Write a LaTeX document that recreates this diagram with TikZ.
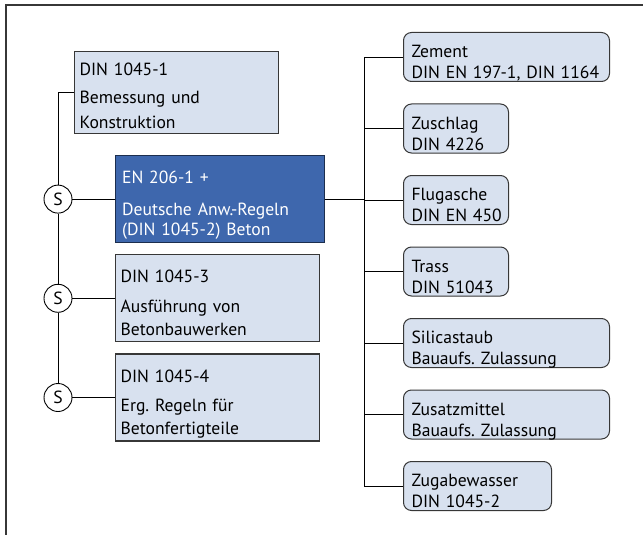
\documentclass[tikz,border=0pt]{standalone}
\usepackage{fontspec}
\setmainfont{PT Sans}
\usetikzlibrary{positioning}
\definecolor{boxfill}{RGB}{216,225,239}
\definecolor{normblue}{RGB}{62,103,173}
\definecolor{linegray}{RGB}{55,55,55}
\frenchspacing

\begin{document}
\begin{tikzpicture}[x=1pt, y=-1pt, font=\fontsize{17.6}{23}\selectfont,
  norm/.style={draw=linegray, line width=1.2pt, fill=boxfill, anchor=north west, align=left, inner xsep=5pt, inner ysep=0pt, text width=194pt, text height=28pt, text depth=59pt},
  main/.style={norm, draw=normblue!45!black, fill=normblue, text=white, inner xsep=6.5pt, text width=196pt},
  part/.style={draw=linegray, line width=1pt, fill=boxfill, rounded corners=8pt, anchor=north west, align=left, inner xsep=8pt, inner ysep=0pt, text width=#1, text height=25pt, text depth=24pt, font=\fontsize{17.6}{21}\selectfont},
  sym/.style={circle, draw=black, line width=0.9pt, fill=white, minimum size=28pt, inner sep=0pt},
  link/.style={draw=black, line width=0.9pt}]

  \useasboundingbox (0,0) rectangle (643,535);

  % Frame
  \draw[linegray, line width=1.5pt] (6,535) -- (6,5) -- (643,5);

  % Left column
  \node[norm, text height=24pt, text depth=58pt] (din1) at (74,51) {DIN 1045-1\\[5pt]Bemessung und\\[2pt]Konstruktion};
  \node[main] (en206) at (115,155) {EN 206-1 +\\[9pt]Deutsche Anw.-Regeln\\[-3pt](DIN 1045-2) Beton};
  \node[norm, below=11pt of en206.south west, anchor=north west] (din3) {DIN 1045-3\\[7pt]Ausf\"uhrung von\\Betonbauwerken};
  \node[norm, below=11pt of din3.south west, anchor=north west] (din4) {DIN 1045-4\\[6pt]Erg. Regeln f\"ur\\Betonfertigteile};

  % S circles
  \coordinate (lspine) at (58,0);
  \node[sym] (s1) at (lspine |- en206.west) {S};
  \node[sym] (s2) at (lspine |- din3.west) {S};
  \node[sym] (s3) at (lspine |- din4.west) {S};

  \draw[link] (din1.west) -| (s1.north);
  \draw[link] (s1.south) -- (s2.north);
  \draw[link] (s2.south) -- (s3.north);
  \draw[link] (s1.east) -- (en206.west);
  \draw[link] (s2.east) -- (din3.west);
  \draw[link] (s3.east) -- (din4.west);

  % Right column
  \node[part=190pt] (zement) at (403,32) {Zement\\DIN~EN~197-1,~DIN~1164};
  \node[part=89pt, below=21.5pt of zement.south west, anchor=north west] (zuschlag) {Zuschlag\\DIN~4226};
  \node[part=89pt, below=21.5pt of zuschlag.south west, anchor=north west] (flugasche) {Flugasche\\DIN~EN~450};
  \node[part=89pt, below=21.5pt of flugasche.south west, anchor=north west] (trass) {Trass\\DIN~51043};
  \node[part=190pt, below=21.5pt of trass.south west, anchor=north west] (silica) {Silicastaub\\Bauaufs.~Zulassung};
  \node[part=190pt, below=21.5pt of silica.south west, anchor=north west] (zusatz) {Zusatzmittel\\Bauaufs.~Zulassung};
  \node[part=132pt, below=21.5pt of zusatz.south west, anchor=north west] (wasser) {Zugabewasser\\DIN~1045-2};

  % Right connectors
  \coordinate (rspine) at (364,0);
  \draw[link] (en206.east) -- (rspine |- en206.east);
  \draw[link] (zement.west) -| (rspine |- wasser.west) -- (wasser.west);
  \foreach \n in {zuschlag, flugasche, trass, silica, zusatz}
    \draw[link] (\n.west) -- (rspine |- \n.west);

\end{tikzpicture}
\end{document}
